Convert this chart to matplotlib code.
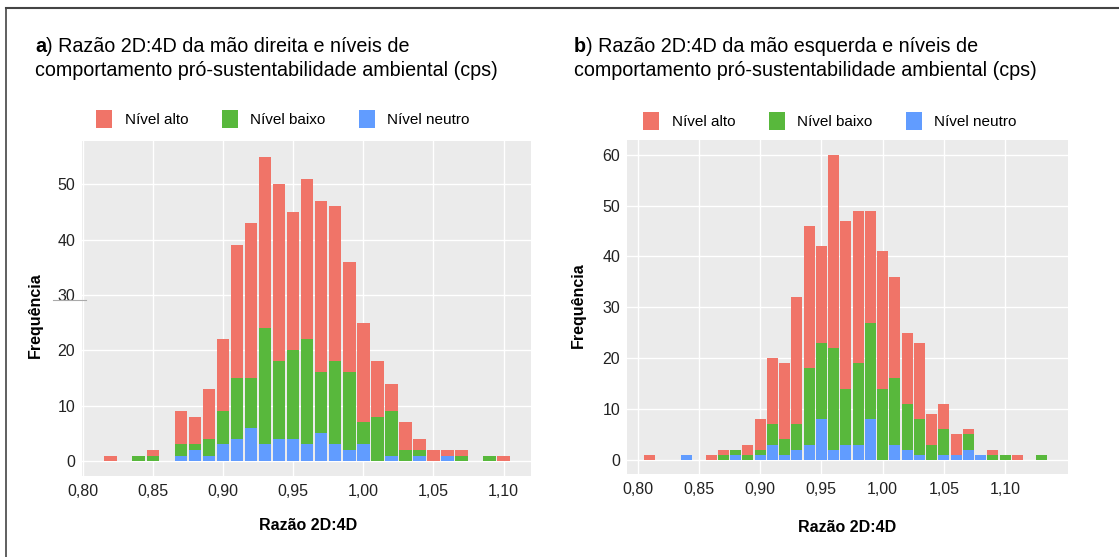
import matplotlib
matplotlib.use("Agg")
import matplotlib.pyplot as plt
from matplotlib.lines import Line2D
from matplotlib.patches import Patch
import numpy as np

plt.rcParams["font.family"] = ["Liberation Sans", "DejaVu Sans"]

# categories (legend order) and colours
categories = ["Nível alto", "Nível baixo", "Nível neutro"]
colors = ["#F07468", "#58B83C", "#619CFF"]

# a) mão direita - bin centers (width 0.01) and counts per level
dir_x = [0.82, 0.84, 0.85, 0.87, 0.88, 0.89, 0.90, 0.91, 0.92, 0.93, 0.94, 0.95, 0.96,
         0.97, 0.98, 0.99, 1.00, 1.01, 1.02, 1.03, 1.04, 1.05, 1.06, 1.07, 1.09, 1.10]
dir_neutro = [0, 0, 0, 1, 2, 1, 3, 4, 6, 3, 4, 4, 3, 5, 3, 2, 3, 0, 1, 0, 1, 0, 1, 0, 0, 0]
dir_baixo = [0, 1, 1, 2, 1, 3, 6, 11, 9, 21, 14, 16, 19, 11, 15, 14, 4, 8, 8, 2, 1, 0, 0, 1, 1, 0]
dir_alto = [1, 0, 1, 6, 5, 9, 13, 24, 28, 31, 32, 25, 29, 31, 28, 20, 18, 10, 5, 5, 2, 2, 1, 1, 0, 1]

# b) mão esquerda
esq_x = [0.81, 0.84, 0.86, 0.87, 0.88, 0.89, 0.90, 0.91, 0.92, 0.93, 0.94, 0.95, 0.96, 0.97,
         0.98, 0.99, 1.00, 1.01, 1.02, 1.03, 1.04, 1.05, 1.06, 1.07, 1.08, 1.09, 1.10, 1.11, 1.13]
esq_neutro = [0, 1, 0, 0, 1, 0, 1, 3, 1, 2, 3, 8, 2, 3, 3, 8, 0, 3, 2, 1, 0, 1, 1, 2, 1, 0, 0, 0, 0]
esq_baixo = [0, 0, 0, 1, 1, 1, 1, 4, 3, 5, 15, 15, 20, 11, 16, 19, 14, 13, 9, 7, 3, 5, 0, 3, 0, 1, 1, 0, 1]
esq_alto = [1, 0, 1, 1, 0, 2, 6, 13, 15, 25, 28, 19, 38, 33, 30, 22, 27, 20, 14, 15, 6, 5, 4, 1, 0, 1, 0, 1, 0]

xticks = [0.80, 0.85, 0.90, 0.95, 1.00, 1.05, 1.10]
xticklabels = ["0,80", "0,85", "0,90", "0,95", "1,00", "1,05", "1,10"]

W, H = 1119, 557
fig = plt.figure(figsize=(W / 100, H / 100), dpi=100)
renderer = fig.canvas.get_renderer()


def box(x0, y0, x1, y1):
    # pixel box (top-left origin) -> figure fraction rect
    return [x0 / W, 1 - y1 / H, (x1 - x0) / W, (y1 - y0) / H]


def draw_panel(rect, x, neutro, baixo, alto, xlim, ylim, yticks):
    ax = fig.add_axes(rect)
    ax.set_facecolor("#EBEBEB")
    x = np.array(x)
    neutro = np.array(neutro)
    baixo = np.array(baixo)
    alto = np.array(alto)
    w = 0.009
    ax.bar(x, neutro, width=w, color=colors[2], linewidth=0, zorder=3)
    ax.bar(x, baixo, width=w, bottom=neutro, color=colors[1], linewidth=0, zorder=3)
    ax.bar(x, alto, width=w, bottom=neutro + baixo, color=colors[0], linewidth=0, zorder=3)
    ax.set_xlim(*xlim)
    ax.set_ylim(*ylim)
    ax.set_xticks(xticks)
    ax.set_xticklabels(xticklabels)
    ax.set_yticks(yticks)
    ax.grid(True, color="white", linewidth=1.0, zorder=0)
    ax.set_axisbelow(True)
    for s in ax.spines.values():
        s.set_visible(False)
    ax.tick_params(length=0, labelsize=11.5, labelcolor="#222222")
    ax.tick_params(axis="x", pad=6)
    ax.tick_params(axis="y", pad=5)
    return ax


axL = draw_panel(box(82, 141, 531, 476), dir_x, dir_neutro, dir_baixo, dir_alto,
                 (0.7995, 1.1196), (-2.7, 57.8), [0, 10, 20, 30, 40, 50])
axR = draw_panel(box(627, 140, 1068, 474), esq_x, esq_neutro, esq_baixo, esq_alto,
                 (0.7914, 1.1513), (-2.8, 62.9), [0, 10, 20, 30, 40, 50, 60])

# axis titles
fig.text(35 / W, 1 - 315 / H, "Frequência", rotation=90, ha="center", va="center",
         fontsize=11.5, fontweight="bold")
fig.text(578 / W, 1 - 305 / H, "Frequência", rotation=90, ha="center", va="center",
         fontsize=11.5, fontweight="bold")
fig.text(308 / W, 1 - 526 / H, "Razão 2D:4D", ha="center", va="center",
         fontsize=11.5, fontweight="bold")
fig.text(847 / W, 1 - 528 / H, "Razão 2D:4D", ha="center", va="center",
         fontsize=11.5, fontweight="bold")

# panel titles: bold letter followed by regular text
title_size = 14.2
for xp, letter, hand in [(35, "a", "direita"), (574, "b", "esquerda")]:
    t = fig.text(xp / W, 1 - 47 / H, letter, fontsize=title_size, fontweight="bold",
                 va="center", ha="left")
    bb = t.get_window_extent(renderer)
    fig.text(bb.x1 / W, 1 - 47 / H, ") Razão 2D:4D da mão " + hand + " e níveis de",
             fontsize=title_size, va="center", ha="left")
    fig.text(xp / W, 1 - 71 / H, "comportamento pró-sustentabilidade ambiental (cps)",
             fontsize=title_size, va="center", ha="left")

# legends
handles = [Patch(facecolor=c, edgecolor="none") for c in colors]
for cx, cy in [(283, 119), (830, 121)]:
    fig.legend(handles, categories, loc="center", bbox_to_anchor=(cx / W, 1 - cy / H),
               ncol=3, frameon=False, fontsize=11, handlelength=1.05, handleheight=1.5,
               handletextpad=0.8, columnspacing=2.2)

# outer frame (top and left edges visible in the crop)
fig.add_artist(Line2D([6 / W, 1.0], [1 - 8 / H, 1 - 8 / H], color="#444444", lw=1.5))
fig.add_artist(Line2D([6 / W, 6 / W], [0.0, 1 - 8 / H], color="#444444", lw=1.2))
# small stray line next to the "30" label
fig.add_artist(Line2D([53 / W, 86 / W], [1 - 300 / H, 1 - 300 / H], color="#aaaaaa", lw=0.8))

fig.savefig("out.png", dpi=100)
